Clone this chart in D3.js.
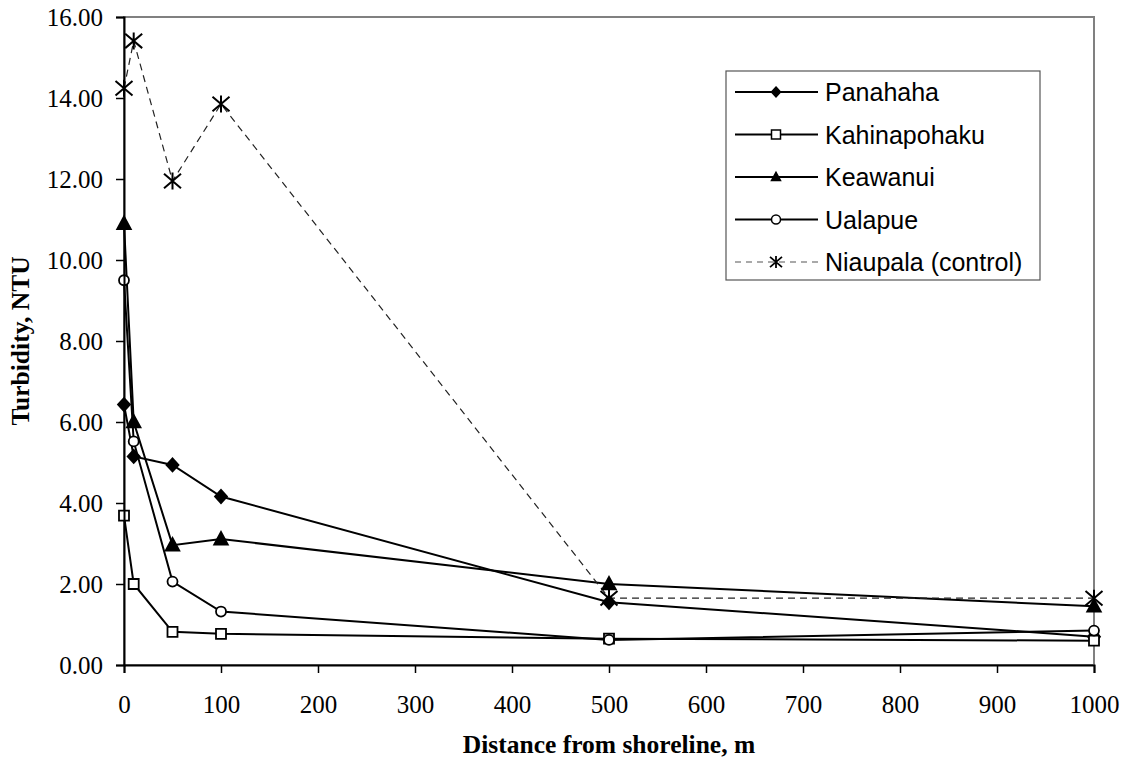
<!DOCTYPE html>
<html>
<head>
<meta charset="utf-8">
<script src="https://cdn.jsdelivr.net/npm/d3@7"></script>
<style>
  body { margin: 0; background: #fff; }
  svg { display: block; }
</style>
</head>
<body>
<div id="chart"></div>
<script>
// data
var distances = [0, 10, 50, 100, 500, 1000];
var seriesNames = ["Panahaha", "Kahinapohaku", "Keawanui", "Ualapue", "Niaupala (control)"];
var panahaha = [6.43, 5.15, 4.94, 4.16, 1.55, 0.70];
var kahinapohaku = [3.69, 2.00, 0.82, 0.77, 0.65, 0.60];
var keawanui = [10.9, 6.00, 2.96, 3.11, 2.00, 1.45];
var ualapue = [9.5, 5.52, 2.06, 1.32, 0.62, 0.85];
var niaupala = [14.24, 15.41, 11.95, 13.85, 1.65, 1.65];
var yTicks = [0, 2, 4, 6, 8, 10, 12, 14, 16];
var xTicks = [0, 100, 200, 300, 400, 500, 600, 700, 800, 900, 1000];

var markers = ["diamond", "square", "triangle", "circle", "star"];
var allValues = [panahaha, kahinapohaku, keawanui, ualapue, niaupala];

// set the dimensions and margins of the graph
var W = 1126, H = 766;
var margin = {top: 17, right: 32, bottom: 101, left: 124},
width = W - margin.left - margin.right,
height = H - margin.top - margin.bottom;

var svg = d3.select("#chart")
.append("svg")
.attr("width", W)
.attr("height", H);

var g = svg.append("g")
.attr("transform", "translate(" + margin.left + "," + margin.top + ")");

var x = d3.scaleLinear().domain([0, 1000]).range([0, width]);
var y = d3.scaleLinear().domain([0, 16]).range([height, 0]);

// plot area border (grey, Excel style)
g.append("rect")
.attr("x", 0).attr("y", 0)
.attr("width", width).attr("height", height)
.style("fill", "none")
.style("stroke", "#808080")
.style("stroke-width", 2);

// marker path for a given type, size s = half width
function markerPath(type, s) {
     if (type == "diamond") {
          return "M0," + (-s * 1.1) + "L" + s + ",0L0," + (s * 1.1) + "L" + (-s) + ",0Z";
     } else if (type == "square") {
          return "M" + (-s) + "," + (-s) + "H" + s + "V" + s + "H" + (-s) + "Z";
     } else if (type == "triangle") {
          return "M0," + (-s * 1.05) + "L" + s + "," + (s * 0.8) + "L" + (-s) + "," + (s * 0.8) + "Z";
     } else if (type == "circle") {
          return d3.symbol().type(d3.symbolCircle).size(Math.PI * s * s)();
     } else {
          // asterisk: X plus vertical bar
          return "M" + (-s) + "," + (-s * 0.85) + "L" + s + "," + (s * 0.85) +
               "M" + (-s) + "," + (s * 0.85) + "L" + s + "," + (-s * 0.85) +
               "M0," + (-s) + "V" + s;
     }
}
function markerFill(type) {
     if (type == "diamond" || type == "triangle") return "#000";
     if (type == "star") return "none";
     return "#fff";
}
function markerSize(type) {
     if (type == "diamond") return 6;
     if (type == "square") return 5;
     if (type == "triangle") return 6.8;
     if (type == "circle") return 5;
     return 8.5;
}

var line = d3.line()
.x(function(d, i) { return x(distances[i]); })
.y(function(d) { return y(d); });

// Draw the lines
allValues.forEach(function(vals, k) {
     g.append("path")
     .datum(vals)
     .attr("d", line)
     .style("fill", "none")
     .style("stroke", k == 4 ? "#222" : "#000")
     .style("stroke-width", k == 4 ? 1.2 : 2)
     .style("stroke-dasharray", k == 4 ? "7,5" : null);
});

// Draw the markers
allValues.forEach(function(vals, k) {
     var t = markers[k];
     g.selectAll(".mk" + k)
     .data(vals)
     .enter()
     .append("path")
     .attr("class", "mk" + k)
     .attr("transform", function(d, i) { return "translate(" + x(distances[i]) + "," + y(d) + ")"; })
     .attr("d", markerPath(t, markerSize(t)))
     .style("fill", markerFill(t))
     .style("stroke", "#000")
     .style("stroke-width", t == "star" ? 2 : 1.8);
});

// Axes
var yAxis = g.append("g")
.call(d3.axisLeft(y).tickValues(yTicks).tickFormat(d3.format(".2f")).tickSize(8).tickPadding(13));
var xAxis = g.append("g")
.attr("transform", "translate(0," + height + ")")
.call(d3.axisBottom(x).tickValues(xTicks).tickFormat(d3.format("d")).tickSize(8).tickPadding(22));

[yAxis, xAxis].forEach(function(ax) {
     ax.select(".domain").attr("stroke", "#000").attr("stroke-width", 2);
     ax.selectAll(".tick line").attr("stroke", "#000").attr("stroke-width", 1.5);
     ax.selectAll(".tick text")
     .style("font-family", "'Liberation Serif', 'Times New Roman', serif")
     .style("font-size", "25px")
     .style("fill", "#000");
});

// Axis titles
svg.append("text")
.attr("x", margin.left + width / 2)
.attr("y", 753)
.style("text-anchor", "middle")
.style("font-family", "'Liberation Serif', 'Times New Roman', serif")
.style("font-weight", "bold")
.style("font-size", "25.5px")
.text("Distance from shoreline, m");

svg.append("text")
.attr("transform", "translate(29," + (margin.top + height / 2) + ") rotate(-90)")
.style("text-anchor", "middle")
.style("font-family", "'Liberation Serif', 'Times New Roman', serif")
.style("font-weight", "bold")
.style("font-size", "25.5px")
.text("Turbidity, NTU");

// Legend
var legend = svg.append("g").attr("transform", "translate(726,71)");
legend.append("rect")
.attr("x", 0).attr("y", 0)
.attr("width", 314).attr("height", 209)
.style("fill", "#fff")
.style("stroke", "#555")
.style("stroke-width", 1.2);

var rowY = d3.scalePoint().domain(seriesNames).range([21, 191]);
seriesNames.forEach(function(name, k) {
     var t = markers[k];
     var row = legend.append("g").attr("transform", "translate(0," + rowY(name) + ")");
     row.append("line")
     .attr("x1", 9).attr("x2", 92)
     .attr("y1", 0).attr("y2", 0)
     .style("stroke", k == 4 ? "#555" : "#000")
     .style("stroke-width", k == 4 ? 1.2 : 2)
     .style("stroke-dasharray", k == 4 ? "6,5" : null);
     row.append("path")
     .attr("transform", "translate(50,0)")
     .attr("d", markerPath(t, t == "star" ? 6 : 4.5))
     .style("fill", markerFill(t))
     .style("stroke", "#000")
     .style("stroke-width", t == "star" ? 1.8 : 1.5);
     row.append("text")
     .attr("x", 99)
     .attr("y", 0)
     .attr("dy", "0.36em")
     .style("font-family", "'Liberation Sans', Arial, sans-serif")
     .style("font-size", "25px")
     .text(name);
});
</script>
</body>
</html>
